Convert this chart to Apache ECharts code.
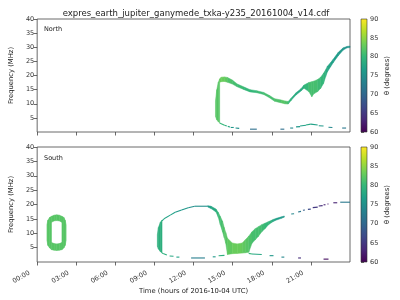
<!DOCTYPE html>
<html><head><meta charset="utf-8">
<script src="https://cdn.jsdelivr.net/npm/echarts@6/dist/echarts.min.js"></script>
<style>html,body{margin:0;padding:0;background:#fff}#c{width:400px;height:300px}</style>
</head><body><div id="c"></div>
<script>
// ---------- tick labels / categories ----------
const timeTicks = [0, 3, 6, 9, 12, 15, 18, 21];
const freqTicks = [5, 10, 15, 20, 25, 30, 35, 40];
const thetaTicks = [60, 65, 70, 75, 80, 85, 90];
const panelNames = ['North', 'South'];

// ---------- bands: [time (h), f low (MHz), f high (MHz), theta (deg)] ----------
const northWall = [
  [13.68, 5.5, 11.0, 82], [13.78, 4.3, 15.0, 82], [13.9, 3.6, 17.6, 82], [14.0, 3.2, 18.8, 82]
];
const northUpper = [
  [14.0, 17.6, 18.8, 83], [14.12, 17.8, 19.4, 83], [14.37, 17.9, 19.5, 83], [14.6, 17.6, 19.3, 82], [14.97, 17.0, 18.4, 81],
  [15.35, 16.0, 17.0, 81], [15.88, 15.0, 15.9, 80], [16.33, 14.2, 15.0, 80], [16.85, 13.9, 14.6, 80],
  [17.38, 13.3, 14.0, 81], [17.83, 12.1, 12.9, 81], [18.21, 10.9, 11.8, 81], [18.74, 10.3, 11.3, 82],
  [19.0, 10.0, 11.0, 82], [19.26, 9.9, 10.8, 81], [19.49, 11.2, 12.0, 79], [19.86, 13.1, 13.9, 78],
  [20.24, 14.5, 15.3, 78], [20.47, 15.5, 16.6, 79], [20.84, 14.3, 17.5, 81], [21.07, 12.5, 17.8, 81],
  [21.22, 13.5, 18.0, 81], [21.52, 14.3, 18.6, 81], [21.75, 15.5, 19.4, 80], [21.97, 17.2, 20.8, 80],
  [22.13, 19.6, 22.0, 79], [22.27, 21.3, 23.3, 78], [22.5, 23.0, 24.5, 77], [22.72, 24.6, 25.8, 77],
  [23.1, 27.0, 28.2, 76], [23.48, 29.0, 29.8, 76], [23.78, 29.8, 30.3, 75], [24.0, 29.9, 30.4, 75]
];
const southRingLeft = [
  [0.75, 7.5, 13.0, 82], [0.82, 5.8, 14.5, 82], [0.95, 4.9, 15.5, 82], [1.1, 4.3, 15.9, 82]
];
const southRingTop = [
  [1.1, 13.8, 15.9, 82], [1.3, 14.3, 16.3, 82], [1.5, 14.4, 16.4, 82], [1.7, 14.3, 16.3, 82], [1.9, 13.8, 15.9, 82]
];
const southRingBottom = [
  [1.1, 4.3, 6.8, 82], [1.3, 4.1, 6.4, 82], [1.5, 4.0, 6.3, 82], [1.7, 4.1, 6.4, 82], [1.9, 4.3, 6.8, 82]
];
const southRingRight = [
  [1.9, 4.3, 15.9, 82], [2.05, 4.9, 15.5, 82], [2.15, 5.8, 14.5, 82], [2.22, 7.5, 13.0, 82]
];
const southWall = [
  [9.22, 5.5, 9.5, 79], [9.3, 4.5, 12.0, 79], [9.45, 3.6, 13.8, 79], [9.58, 3.1, 14.6, 79]
];
const southMain = [
  [13.09, 19.1, 19.6, 76], [13.34, 18.6, 19.4, 77], [13.72, 17.4, 18.4, 79], [13.9, 15.5, 17.2, 80],
  [14.05, 13.0, 15.8, 81], [14.22, 10.5, 14.2, 81], [14.35, 8.5, 12.0, 82], [14.47, 6.5, 10.2, 82],
  [14.6, 2.6, 8.3, 82], [14.97, 2.9, 6.6, 83], [15.35, 3.0, 6.3, 83], [15.73, 3.1, 6.6, 83],
  [15.97, 3.2, 7.7, 82], [16.23, 3.4, 9.0, 82], [16.48, 6.5, 10.5, 81], [16.73, 7.7, 11.6, 81],
  [16.98, 9.0, 12.3, 81], [17.23, 10.5, 13.0, 81], [17.48, 11.6, 13.5, 80], [17.73, 12.9, 14.0, 80],
  [17.98, 13.7, 14.5, 79], [18.11, 14.1, 14.8, 78], [18.36, 14.6, 15.2, 77], [18.74, 15.2, 15.7, 76],
  [18.96, 15.6, 16.0, 76]
];

// ---------- thin lines: [t0 (h), f0 (MHz), t1 (h), f1 (MHz), theta (deg)] ----------
const northLines = [
  [14.0, 3.2, 14.37, 2.4, 80], [14.37, 2.4, 14.55, 2.1, 79], [14.62, 2.0, 14.8, 1.8, 78],
  [14.85, 1.6, 15.08, 1.6, 76], [15.22, 1.4, 15.5, 1.3, 75], [16.33, 1.0, 16.85, 1.0, 71],
  [18.66, 1.0, 18.96, 1.0, 71], [19.41, 1.4, 19.64, 1.4, 74], [19.86, 1.8, 20.17, 1.9, 76],
  [20.17, 2.1, 20.62, 2.4, 77], [20.62, 2.5, 20.99, 2.8, 78], [20.99, 2.8, 21.52, 2.5, 77],
  [21.6, 2.2, 21.97, 2.1, 76], [22.35, 1.7, 22.65, 1.6, 74], [23.4, 1.4, 23.7, 1.4, 72]
];
const southLines = [
  [9.58, 14.3, 9.71, 14.9, 78], [9.71, 14.9, 9.83, 15.3, 78], [9.83, 15.3, 10.21, 16.3, 77],
  [10.21, 16.3, 10.59, 17.3, 77], [10.59, 17.3, 11.08, 18.1, 76], [11.08, 18.1, 11.59, 18.9, 76],
  [11.59, 18.9, 12.09, 19.4, 75], [12.09, 19.4, 13.09, 19.4, 75],
  [9.58, 3.1, 9.71, 2.9, 79], [9.71, 2.9, 9.95, 2.4, 79], [10.16, 2.1, 10.46, 2.0, 78],
  [10.68, 1.7, 10.91, 1.7, 77], [11.81, 1.4, 12.87, 1.4, 73], [13.47, 1.8, 13.69, 1.8, 76],
  [13.92, 2.2, 14.37, 2.3, 79], [16.23, 3.0, 16.48, 2.8, 80], [16.48, 2.8, 17.23, 2.6, 78],
  [17.83, 2.2, 18.13, 2.2, 76], [18.74, 1.7, 18.96, 1.7, 74], [20.02, 1.4, 20.24, 1.4, 64],
  [21.97, 1.0, 22.35, 1.0, 61],
  [19.49, 16.7, 19.71, 16.8, 74], [20.02, 17.4, 20.24, 17.6, 72], [20.39, 18.0, 20.54, 18.1, 69],
  [20.77, 18.3, 20.99, 18.4, 67], [21.14, 18.9, 21.52, 19.1, 65], [21.6, 19.5, 21.9, 19.6, 64],
  [21.97, 19.9, 22.12, 19.9, 63], [22.27, 20.2, 22.35, 20.2, 62], [22.72, 20.6, 23.02, 20.6, 63],
  [23.25, 20.8, 24.0, 20.8, 72]
];
const thetaRange = [60, 90];

// ---------- styling ----------
const viridis = ['#440154','#482878','#3e4989','#31688e','#26828e','#1f9e89','#35b779','#6ece58','#b5de2b','#fde725'];
const FONT = 'DejaVu Sans';
const AX = '#444';

function toSegments(bands) {
  const out = [];
  bands.forEach(b => {
    for (let i = 0; i < b.length - 1; i++) {
      const a = b[i], c = b[i + 1];
      out.push([a[0], a[1], a[2], c[0], c[1], c[2], (a[3] + c[3]) / 2]);
    }
  });
  return out;
}
function renderBand(params, api) {
  const p1 = api.coord([api.value(0), api.value(1)]);
  const p2 = api.coord([api.value(0), api.value(2)]);
  const p3 = api.coord([api.value(3), api.value(5)]);
  const p4 = api.coord([api.value(3), api.value(4)]);
  const c = api.visual('color');
  return {type: 'polygon', shape: {points: [p1, p2, p3, p4]}, style: {fill: c, stroke: c, lineWidth: 0.5}};
}
function renderLine(params, api) {
  const a = api.coord([api.value(0), api.value(1)]);
  const b = api.coord([api.value(2), api.value(3)]);
  const c = api.visual('color');
  return {type: 'line', shape: {x1: a[0], y1: a[1], x2: b[0], y2: b[1]}, style: {stroke: c, lineWidth: 1.1}};
}
function renderBar(params, api) {
  const a = api.coord([api.value(0), api.value(1)]);
  const b = api.coord([api.value(2), api.value(3)]);
  return {type: 'rect', shape: {x: a[0], y: b[1], width: b[0] - a[0], height: a[1] - b[1]},
    style: {fill: new echarts.graphic.LinearGradient(0, 1, 0, 0,
      viridis.map((c, i) => ({offset: i / (viridis.length - 1), color: c}))), stroke: '#333', lineWidth: 0.6}};
}
const pad = h => (h < 10 ? '0' : '') + h + ':00';

const grids = [
  {left: 31, top: 19, width: 319, height: 113},
  {left: 31, top: 147, width: 319, height: 115},
  {left: 361, top: 19, width: 6, height: 113},
  {left: 361, top: 147, width: 6, height: 115}
].map(g => Object.assign(g, {show: true, borderColor: AX, borderWidth: 0.8, backgroundColor: 'transparent'}));
grids[2].show = false; grids[3].show = false;

function timeAxis(gi, labels) {
  return {
    type: 'value', gridIndex: gi, min: 0, max: 24, interval: 3,
    axisLine: {show: false}, splitLine: {show: false},
    axisTick: {show: true, length: 3.5, lineStyle: {color: AX, width: 0.8}, customValues: timeTicks},
    axisLabel: {show: labels, customValues: timeTicks, formatter: v => pad(v), rotate: 30, fontSize: 6.5,
      padding: [0, 9, 0, 0], hideOverlap: false,
      color: '#333', fontFamily: FONT, margin: 6},
    name: labels ? 'Time (hours of 2016-10-04 UTC)' : '', nameLocation: 'middle', nameGap: 22,
    nameTextStyle: {fontSize: 6.8, color: '#222', fontFamily: FONT}
  };
}
function freqAxis(gi) {
  return {
    type: 'value', gridIndex: gi, min: 0, max: 40, interval: 5,
    axisLine: {show: false}, splitLine: {show: false},
    axisTick: {show: true, length: 3.5, lineStyle: {color: AX, width: 0.8}, customValues: freqTicks},
    axisLabel: {customValues: freqTicks, fontSize: 6.5, color: '#333', fontFamily: FONT, margin: 3},
    name: 'Frequency (MHz)', nameLocation: 'middle', nameGap: 16, nameRotate: 90,
    nameTextStyle: {fontSize: 6.8, color: '#222', fontFamily: FONT}
  };
}
function barAxisX(gi) { return {type: 'value', gridIndex: gi, min: 0, max: 1, show: false}; }
function barAxisY(gi) {
  return {
    type: 'value', gridIndex: gi, position: 'right', min: thetaRange[0], max: thetaRange[1], interval: 5,
    axisLine: {show: false}, splitLine: {show: false},
    axisTick: {show: true, length: 3, lineStyle: {color: AX, width: 0.8}, customValues: thetaTicks},
    axisLabel: {customValues: thetaTicks, fontSize: 6.5, color: '#333', fontFamily: FONT, margin: 3},
    name: 'θ (degrees)', nameLocation: 'middle', nameGap: 17, nameRotate: 90,
    nameTextStyle: {fontSize: 6.8, color: '#222', fontFamily: FONT}
  };
}

const chart = echarts.init(document.getElementById('c'), null, {renderer: 'canvas'});
chart.setOption({
  animation: false,
  backgroundColor: '#fff',
  title: {text: 'expres_earth_jupiter_ganymede_txka-y235_20161004_v14.cdf', left: 191, top: 4, textAlign: 'center',
    textStyle: {fontSize: 8.5, fontWeight: 'normal', color: '#222', fontFamily: FONT}},
  graphic: [
    {type: 'text', left: 44, top: 26, style: {text: panelNames[0], fontSize: 6.5, fill: '#222', fontFamily: FONT}},
    {type: 'text', left: 44, top: 155, style: {text: panelNames[1], fontSize: 6.5, fill: '#222', fontFamily: FONT}}
  ],
  grid: grids,
  xAxis: [timeAxis(0, false), timeAxis(1, true), barAxisX(2), barAxisX(3)],
  yAxis: [freqAxis(0), freqAxis(1), barAxisY(2), barAxisY(3)],
  visualMap: [
    {type: 'continuous', show: false, min: thetaRange[0], max: thetaRange[1], dimension: 6, seriesIndex: [0, 1], inRange: {color: viridis}},
    {type: 'continuous', show: false, min: thetaRange[0], max: thetaRange[1], dimension: 4, seriesIndex: [2, 3], inRange: {color: viridis}}
  ],
  series: [
    {type: 'custom', xAxisIndex: 0, yAxisIndex: 0, renderItem: renderBand, clip: true,
      encode: {x: [0, 3], y: [1, 2, 4, 5]}, data: toSegments([northWall, northUpper])},
    {type: 'custom', xAxisIndex: 1, yAxisIndex: 1, renderItem: renderBand, clip: true,
      encode: {x: [0, 3], y: [1, 2, 4, 5]},
      data: toSegments([southRingLeft, southRingTop, southRingBottom, southRingRight, southWall, southMain])},
    {type: 'custom', xAxisIndex: 0, yAxisIndex: 0, renderItem: renderLine, clip: true,
      encode: {x: [0, 2], y: [1, 3]}, data: northLines},
    {type: 'custom', xAxisIndex: 1, yAxisIndex: 1, renderItem: renderLine, clip: true,
      encode: {x: [0, 2], y: [1, 3]}, data: southLines},
    {type: 'custom', xAxisIndex: 2, yAxisIndex: 2, renderItem: renderBar, silent: true,
      encode: {x: [0, 2], y: [1, 3]}, data: [[0, thetaRange[0], 1, thetaRange[1]]]},
    {type: 'custom', xAxisIndex: 3, yAxisIndex: 3, renderItem: renderBar, silent: true,
      encode: {x: [0, 2], y: [1, 3]}, data: [[0, thetaRange[0], 1, thetaRange[1]]]}
  ]
});
</script></body></html>
